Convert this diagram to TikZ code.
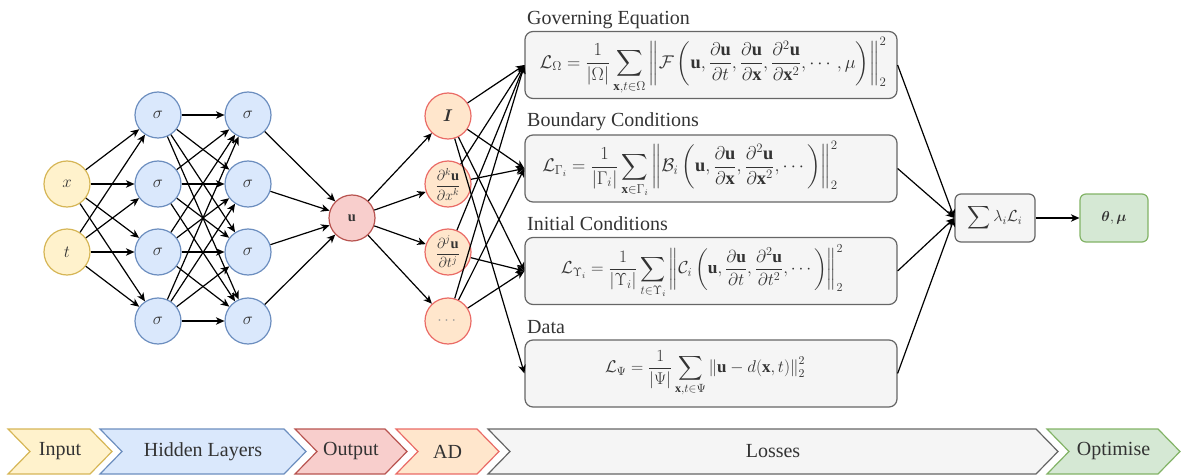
\RequirePackage{fix-cm}
\documentclass[tikz,border=0pt]{standalone}
\usepackage{amsmath,amssymb,bm}
\usepackage{fontspec}
\setmainfont{Liberation Serif}
\usetikzlibrary{arrows.meta}
\definecolor{yfill}{HTML}{FFF2CC}\definecolor{ydraw}{HTML}{D6B656}
\definecolor{bfill}{HTML}{DAE8FC}\definecolor{bdraw}{HTML}{6C8EBF}
\definecolor{rfill}{HTML}{F8CECC}\definecolor{rdraw}{HTML}{B85450}
\definecolor{ofill}{HTML}{FFE6CC}\definecolor{odraw}{HTML}{EA6B66}
\definecolor{gfill}{HTML}{F5F5F5}\definecolor{gdraw}{HTML}{666666}
\definecolor{gtext}{HTML}{333333}
\definecolor{grfill}{HTML}{D5E8D4}\definecolor{grdraw}{HTML}{82B366}
\newcommand{\mychev}[6]{%
  \draw[line width=1.2pt, fill=#4, draw=#5] (#2,429) -- (#3-22,429) -- (#3,451.5) -- (#3-22,474) -- (#2,474) -- (#2+22,451.5) -- cycle;
  \node[chevtext] (#1) at ({(#2+#3)/2},451.5) {#6};}
\begin{document}
\begin{tikzpicture}[x=1pt,y=-1pt,
  neuron/.style={circle, minimum size=46pt, inner sep=0pt, line width=1.2pt, text=gtext, font=\fontsize{17}{19}\selectfont},
  inp/.style={neuron, fill=yfill, draw=ydraw},
  hid/.style={neuron, fill=bfill, draw=bdraw},
  outn/.style={neuron, fill=rfill, draw=rdraw},
  adn/.style={neuron, fill=ofill, draw=odraw},
  lossbox/.style={draw=gdraw, fill=gfill, rounded corners=8pt, line width=1.2pt, minimum width=372pt, minimum height=67pt, inner sep=0pt},
  smallbox/.style={rounded corners=6pt, line width=1.2pt, minimum height=48pt, inner sep=0pt, text=gtext, font=\fontsize{14.4}{17}\selectfont},
  eqn/.style={text=gtext, inner sep=0pt, font=\fontsize{17}{19}\selectfont},
  lbl/.style={text=gtext, inner sep=0pt, font=\fontsize{20}{22}\selectfont},
  chevtext/.style={text=gtext, inner sep=0pt, font=\fontsize{20}{22}\selectfont},
  conn/.style={line width=1.2pt, -{Stealth[length=8.5pt,width=7.5pt,inset=2.5pt]}}
]
\useasboundingbox (0,0) rectangle (1181,476);
% input
\node[inp] (x) at (67,184) {$x$};
\node[inp] (t) at (67,252) {$t$};
% hidden
\foreach \k/\yy in {1/115,2/184,3/252,4/321}{
  \node[hid] (h1\k) at (158,\yy) {$\sigma$};
  \node[hid] (h2\k) at (248,\yy) {$\sigma$};
}
% output
\node[outn, font=\fontsize{14.4}{16}\selectfont] (u) at (352,218) {$\mathbf{u}$};
% AD
\node[adn, font=\fontsize{17}{19}\selectfont] (I) at (448,116) {$\bm{I}$};
\node[adn, font=\fontsize{14.5}{16}\selectfont] (dx) at (448,184) {$\displaystyle\frac{\partial^k\mathbf{u}}{\partial x^k}$};
\node[adn, font=\fontsize{14.5}{16}\selectfont] (dt) at (448,252) {$\displaystyle\frac{\partial^j\mathbf{u}}{\partial t^j}$};
\node[adn, text=gdraw!70, font=\fontsize{16}{18}\selectfont] (dots) at (448,321) {$\cdots$};
% loss boxes
\node[lossbox] (gov) at (711,65) {};
\node[lossbox] (bc) at (711,168.5) {};
\node[lossbox] (ic) at (711,271) {};
\node[lossbox] (dat) at (711,373.5) {};
\node[lbl, anchor=base west] (govl) at (527,25) {Governing Equation};
\node[lbl, anchor=base west] (bcl) at (527,127) {Boundary Conditions};
\node[lbl, anchor=base west] (icl) at (527,230) {Initial Conditions};
\node[lbl, anchor=base west] (datl) at (527,333) {Data};
\node[eqn, font=\fontsize{18.4}{20}\selectfont] (goveq) at (713,66) {$\displaystyle\mathcal{L}_{\Omega}=\frac{1}{|\Omega|}\sum_{\mathbf{x},t\in\Omega}\left\|\mathcal{F}\left(\mathbf{u},\frac{\partial\mathbf{u}}{\partial t},\frac{\partial\mathbf{u}}{\partial\mathbf{x}},\frac{\partial^2\mathbf{u}}{\partial\mathbf{x}^2},\cdots,\mu\right)\right\|_2^2$};
\node[eqn, font=\fontsize{18.4}{20}\selectfont] (bceq) at (690,169) {$\displaystyle\mathcal{L}_{\Gamma_i}=\frac{1}{|\Gamma_i|}\sum_{\mathbf{x}\in\Gamma_i}\left\|\mathcal{B}_i\left(\mathbf{u},\frac{\partial\mathbf{u}}{\partial\mathbf{x}},\frac{\partial^2\mathbf{u}}{\partial\mathbf{x}^2},\cdots\right)\right\|_2^2$};
\node[eqn, font=\fontsize{17.4}{19}\selectfont] (iceq) at (702,271.5) {$\displaystyle\mathcal{L}_{\Upsilon_i}=\frac{1}{|\Upsilon_i|}\sum_{t\in\Upsilon_i}\left\|\mathcal{C}_i\left(\mathbf{u},\frac{\partial\mathbf{u}}{\partial t},\frac{\partial^2\mathbf{u}}{\partial t^2},\cdots\right)\right\|_2^2$};
\node[eqn, font=\fontsize{17}{19}\selectfont] (dateq) at (705,373.5) {$\displaystyle\mathcal{L}_{\Psi}=\frac{1}{|\Psi|}\sum_{\mathbf{x},t\in\Psi}\left\|\mathbf{u}-d(\mathbf{x},t)\right\|_2^2$};
% sum and params
\node[smallbox, draw=gdraw, fill=gfill, minimum width=80pt, font=\fontsize{16}{18}\selectfont] (sum) at (995,218) {$\displaystyle\sum\lambda_i\mathcal{L}_i$};
\node[smallbox, draw=grdraw, fill=grfill, minimum width=68pt] (theta) at (1114,218) {$\bm{\theta},\bm{\mu}$};
% connectors
\foreach \a in {x,t}{\foreach \k in {1,...,4}{\draw[conn] (\a) -- (h1\k);}}
\foreach \a in {1,...,4}{\foreach \k in {1,...,4}{\draw[conn] (h1\a) -- (h2\k);}}
\foreach \k in {1,...,4}{\draw[conn] (h2\k) -- (u);}
\foreach \k in {I,dx,dt,dots}{\draw[conn] (u) -- (\k);}
\foreach \k in {gov,bc,ic,dat}{\draw[conn] (I) -- (\k.west);}
\foreach \k in {gov,bc}{\draw[conn] (dx) -- (\k.west);}
\foreach \k in {gov,ic}{\draw[conn] (dt) -- (\k.west);}
\foreach \k in {gov,bc,ic}{\draw[conn] (dots) -- (\k.west);}
\foreach \k in {gov,bc,ic,dat}{\draw[conn] (\k.east) -- (sum.west);}
\draw[conn] (sum) -- (theta);
% stage chevrons
\mychev{sin}{8}{112}{yfill}{ydraw}{Input}
\mychev{shid}{100}{306}{bfill}{bdraw}{Hidden Layers}
\mychev{sout}{295}{407}{rfill}{rdraw}{Output}
\mychev{sad}{396}{499}{ofill}{odraw}{AD}
\mychev{sloss}{488}{1058}{gfill}{gdraw}{Losses}
\mychev{sopt}{1047}{1180}{grfill}{grdraw}{Optimise}
\end{tikzpicture}
\end{document}
